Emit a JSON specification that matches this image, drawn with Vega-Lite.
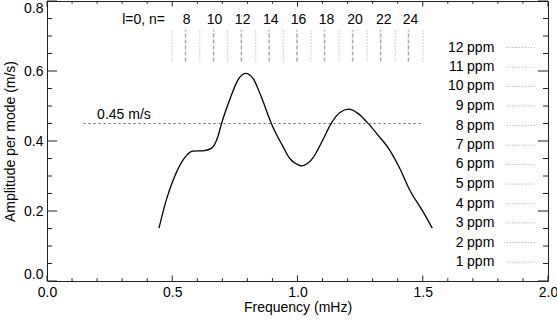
{
  "$schema": "https://vega.github.io/schema/vega-lite/v6.json",
  "width": 501,
  "height": 280,
  "autosize": {"type": "none"},
  "padding": {"left": 47, "top": 1, "right": 9, "bottom": 39},
  "background": "white",
  "config": {
    "view": {"stroke": "#222", "strokeWidth": 1},
    "font": "Liberation Sans",
    "axis": {"labelFont": "Liberation Sans", "titleFont": "Liberation Sans", "labelFontSize": 14, "titleFontSize": 14, "titleFontWeight": "normal", "labelColor": "#000", "titleColor": "#000", "domain": false, "ticks": false, "grid": false}
  },
  "datasets": {
    "curve": [
      {"f": 0.447, "a": 0.151}, {"f": 0.476, "a": 0.231}, {"f": 0.509, "a": 0.298}, {"f": 0.549, "a": 0.352},
      {"f": 0.582, "a": 0.371}, {"f": 0.622, "a": 0.372}, {"f": 0.656, "a": 0.379}, {"f": 0.682, "a": 0.412},
      {"f": 0.696, "a": 0.448}, {"f": 0.729, "a": 0.517}, {"f": 0.762, "a": 0.574}, {"f": 0.793, "a": 0.593},
      {"f": 0.822, "a": 0.579}, {"f": 0.855, "a": 0.527}, {"f": 0.895, "a": 0.451}, {"f": 0.942, "a": 0.384},
      {"f": 0.968, "a": 0.351}, {"f": 1.006, "a": 0.331}, {"f": 1.015, "a": 0.329}, {"f": 1.061, "a": 0.351},
      {"f": 1.101, "a": 0.403}, {"f": 1.135, "a": 0.451}, {"f": 1.168, "a": 0.481}, {"f": 1.205, "a": 0.491},
      {"f": 1.241, "a": 0.479}, {"f": 1.281, "a": 0.451}, {"f": 1.321, "a": 0.417}, {"f": 1.368, "a": 0.374},
      {"f": 1.408, "a": 0.322}, {"f": 1.448, "a": 0.260}, {"f": 1.501, "a": 0.198}, {"f": 1.538, "a": 0.151}
    ],
    "ref": [{"f1": 0.146, "f2": 1.501, "a": 0.45, "label": "0.45 m/s", "lf": 0.2, "la": 0.474}],
    "modes": [
      {"f": 0.553, "kind": "l0", "n": "8", "lf": 0.557},
      {"f": 0.665, "kind": "l0", "n": "10", "lf": 0.669},
      {"f": 0.776, "kind": "l0", "n": "12", "lf": 0.781},
      {"f": 0.887, "kind": "l0", "n": "14", "lf": 0.893},
      {"f": 0.998, "kind": "l0", "n": "16", "lf": 1.004},
      {"f": 1.108, "kind": "l0", "n": "18", "lf": 1.116},
      {"f": 1.220, "kind": "l0", "n": "20", "lf": 1.230},
      {"f": 1.332, "kind": "l0", "n": "22", "lf": 1.344},
      {"f": 1.443, "kind": "l0", "n": "24", "lf": 1.451},
      {"f": 0.499, "kind": "l1"}, {"f": 0.610, "kind": "l1"}, {"f": 0.721, "kind": "l1"}, {"f": 0.833, "kind": "l1"},
      {"f": 0.943, "kind": "l1"}, {"f": 1.054, "kind": "l1"}, {"f": 1.166, "kind": "l1"}, {"f": 1.278, "kind": "l1"},
      {"f": 1.390, "kind": "l1"}, {"f": 1.501, "kind": "l1"}
    ],
    "ppm": [
      {"p": "1", "a": 0.054}, {"p": "2", "a": 0.110}, {"p": "3", "a": 0.166}, {"p": "4", "a": 0.221},
      {"p": "5", "a": 0.277}, {"p": "6", "a": 0.333}, {"p": "7", "a": 0.388}, {"p": "8", "a": 0.444},
      {"p": "9", "a": 0.500}, {"p": "10", "a": 0.556}, {"p": "11", "a": 0.611}, {"p": "12", "a": 0.667}
    ],
    "xt": [
      {"v": 0.0, "m": 1}, {"v": 0.1, "m": 0}, {"v": 0.2, "m": 0}, {"v": 0.3, "m": 0}, {"v": 0.4, "m": 0},
      {"v": 0.5, "m": 1}, {"v": 0.6, "m": 0}, {"v": 0.7, "m": 0}, {"v": 0.8, "m": 0}, {"v": 0.9, "m": 0},
      {"v": 1.0, "m": 1}, {"v": 1.1, "m": 0}, {"v": 1.2, "m": 0}, {"v": 1.3, "m": 0}, {"v": 1.4, "m": 0},
      {"v": 1.5, "m": 1}, {"v": 1.6, "m": 0}, {"v": 1.7, "m": 0}, {"v": 1.8, "m": 0}, {"v": 1.9, "m": 0},
      {"v": 2.0, "m": 1}
    ],
    "yt": [
      {"v": 0.0, "m": 1}, {"v": 0.05, "m": 0}, {"v": 0.1, "m": 0}, {"v": 0.15, "m": 0},
      {"v": 0.2, "m": 1}, {"v": 0.25, "m": 0}, {"v": 0.3, "m": 0}, {"v": 0.35, "m": 0},
      {"v": 0.4, "m": 1}, {"v": 0.45, "m": 0}, {"v": 0.5, "m": 0}, {"v": 0.55, "m": 0},
      {"v": 0.6, "m": 1}, {"v": 0.65, "m": 0}, {"v": 0.7, "m": 0}, {"v": 0.75, "m": 0},
      {"v": 0.8, "m": 1}
    ]
  },
  "layer": [
    {
      "data": {"name": "curve"},
      "mark": {"type": "line", "color": "#000", "strokeWidth": 1.3, "interpolate": "monotone"},
      "encoding": {
        "x": {"field": "f", "type": "quantitative", "scale": {"domain": [0, 2], "nice": false, "zero": false},
              "axis": {"title": "Frequency (mHz)", "values": [0, 0.5, 1, 1.5, 2], "format": ".1f", "labelFlush": false, "labelPadding": 4, "titlePadding": 1}},
        "y": {"field": "a", "type": "quantitative", "scale": {"domain": [0, 0.8], "nice": false, "zero": false},
              "axis": {"title": "Amplitude per mode (m/s)", "values": [0, 0.2, 0.4, 0.6, 0.8], "format": ".1f", "labelFlush": true, "labelPadding": 4, "titlePadding": 6}}
      }
    },
    {
      "data": {"name": "ref"},
      "mark": {"type": "rule", "color": "#666", "strokeWidth": 1, "strokeDash": [2, 3]},
      "encoding": {"x": {"field": "f1", "type": "quantitative"}, "x2": {"field": "f2"}, "y": {"field": "a", "type": "quantitative"}}
    },
    {
      "data": {"name": "ref"},
      "mark": {"type": "text", "align": "left", "baseline": "middle", "fontSize": 14, "color": "#000"},
      "encoding": {"x": {"field": "lf", "type": "quantitative"}, "y": {"field": "la", "type": "quantitative"}, "text": {"field": "label"}}
    },
    {
      "data": {"name": "modes"},
      "transform": [{"filter": "datum.kind === 'l0'"}],
      "mark": {"type": "rule", "color": "#aaa", "strokeWidth": 1.5, "strokeDash": [4, 2]},
      "encoding": {"x": {"field": "f", "type": "quantitative"}, "y": {"datum": 0.627, "type": "quantitative"}, "y2": {"datum": 0.717}}
    },
    {
      "data": {"name": "modes"},
      "transform": [{"filter": "datum.kind === 'l1'"}],
      "mark": {"type": "rule", "color": "#aaa", "strokeWidth": 1, "strokeDash": [1, 2]},
      "encoding": {"x": {"field": "f", "type": "quantitative"}, "y": {"datum": 0.627, "type": "quantitative"}, "y2": {"datum": 0.717}}
    },
    {
      "data": {"name": "modes"},
      "transform": [{"filter": "datum.kind === 'l0'"}],
      "mark": {"type": "text", "align": "center", "baseline": "middle", "fontSize": 14, "color": "#000"},
      "encoding": {"x": {"field": "lf", "type": "quantitative"}, "y": {"datum": 0.746, "type": "quantitative"}, "text": {"field": "n"}}
    },
    {
      "data": {"values": [{"t": "l=0, n="}]},
      "mark": {"type": "text", "align": "left", "baseline": "middle", "fontSize": 14, "color": "#000"},
      "encoding": {"x": {"datum": 0.3, "type": "quantitative"}, "y": {"datum": 0.746, "type": "quantitative"}, "text": {"field": "t"}}
    },
    {
      "data": {"name": "ppm"},
      "mark": {"type": "text", "align": "right", "baseline": "middle", "fontSize": 14, "color": "#000"},
      "encoding": {"x": {"datum": 1.663, "type": "quantitative"}, "y": {"field": "a", "type": "quantitative"}, "text": {"field": "p"}}
    },
    {
      "data": {"name": "ppm"},
      "mark": {"type": "text", "align": "left", "baseline": "middle", "fontSize": 14, "color": "#000", "text": "ppm"},
      "encoding": {"x": {"datum": 1.677, "type": "quantitative"}, "y": {"field": "a", "type": "quantitative"}}
    },
    {
      "data": {"name": "ppm"},
      "mark": {"type": "rule", "color": "#999", "strokeWidth": 1, "strokeDash": [1, 2]},
      "encoding": {"x": {"datum": 1.835, "type": "quantitative"}, "x2": {"datum": 1.946}, "y": {"field": "a", "type": "quantitative"}}
    },
    {
      "data": {"name": "xt"},
      "transform": [{"filter": "datum.m === 1"}],
      "mark": {"type": "rule", "color": "#222"},
      "encoding": {"x": {"field": "v", "type": "quantitative"}, "y": {"datum": 0, "type": "quantitative"}, "y2": {"datum": 0.016}}
    },
    {
      "data": {"name": "xt"},
      "transform": [{"filter": "datum.m === 1"}],
      "mark": {"type": "rule", "color": "#222"},
      "encoding": {"x": {"field": "v", "type": "quantitative"}, "y": {"datum": 0.8, "type": "quantitative"}, "y2": {"datum": 0.784}}
    },
    {
      "data": {"name": "xt"},
      "transform": [{"filter": "datum.m === 0"}],
      "mark": {"type": "rule", "color": "#222"},
      "encoding": {"x": {"field": "v", "type": "quantitative"}, "y": {"datum": 0, "type": "quantitative"}, "y2": {"datum": 0.008}}
    },
    {
      "data": {"name": "xt"},
      "transform": [{"filter": "datum.m === 0"}],
      "mark": {"type": "rule", "color": "#222"},
      "encoding": {"x": {"field": "v", "type": "quantitative"}, "y": {"datum": 0.8, "type": "quantitative"}, "y2": {"datum": 0.792}}
    },
    {
      "data": {"name": "yt"},
      "transform": [{"filter": "datum.m === 1"}],
      "mark": {"type": "rule", "color": "#222"},
      "encoding": {"y": {"field": "v", "type": "quantitative"}, "x": {"datum": 0, "type": "quantitative"}, "x2": {"datum": 0.04}}
    },
    {
      "data": {"name": "yt"},
      "transform": [{"filter": "datum.m === 1"}],
      "mark": {"type": "rule", "color": "#222"},
      "encoding": {"y": {"field": "v", "type": "quantitative"}, "x": {"datum": 2, "type": "quantitative"}, "x2": {"datum": 1.96}}
    },
    {
      "data": {"name": "yt"},
      "transform": [{"filter": "datum.m === 0"}],
      "mark": {"type": "rule", "color": "#222"},
      "encoding": {"y": {"field": "v", "type": "quantitative"}, "x": {"datum": 0, "type": "quantitative"}, "x2": {"datum": 0.02}}
    },
    {
      "data": {"name": "yt"},
      "transform": [{"filter": "datum.m === 0"}],
      "mark": {"type": "rule", "color": "#222"},
      "encoding": {"y": {"field": "v", "type": "quantitative"}, "x": {"datum": 2, "type": "quantitative"}, "x2": {"datum": 1.98}}
    }
  ]
}
